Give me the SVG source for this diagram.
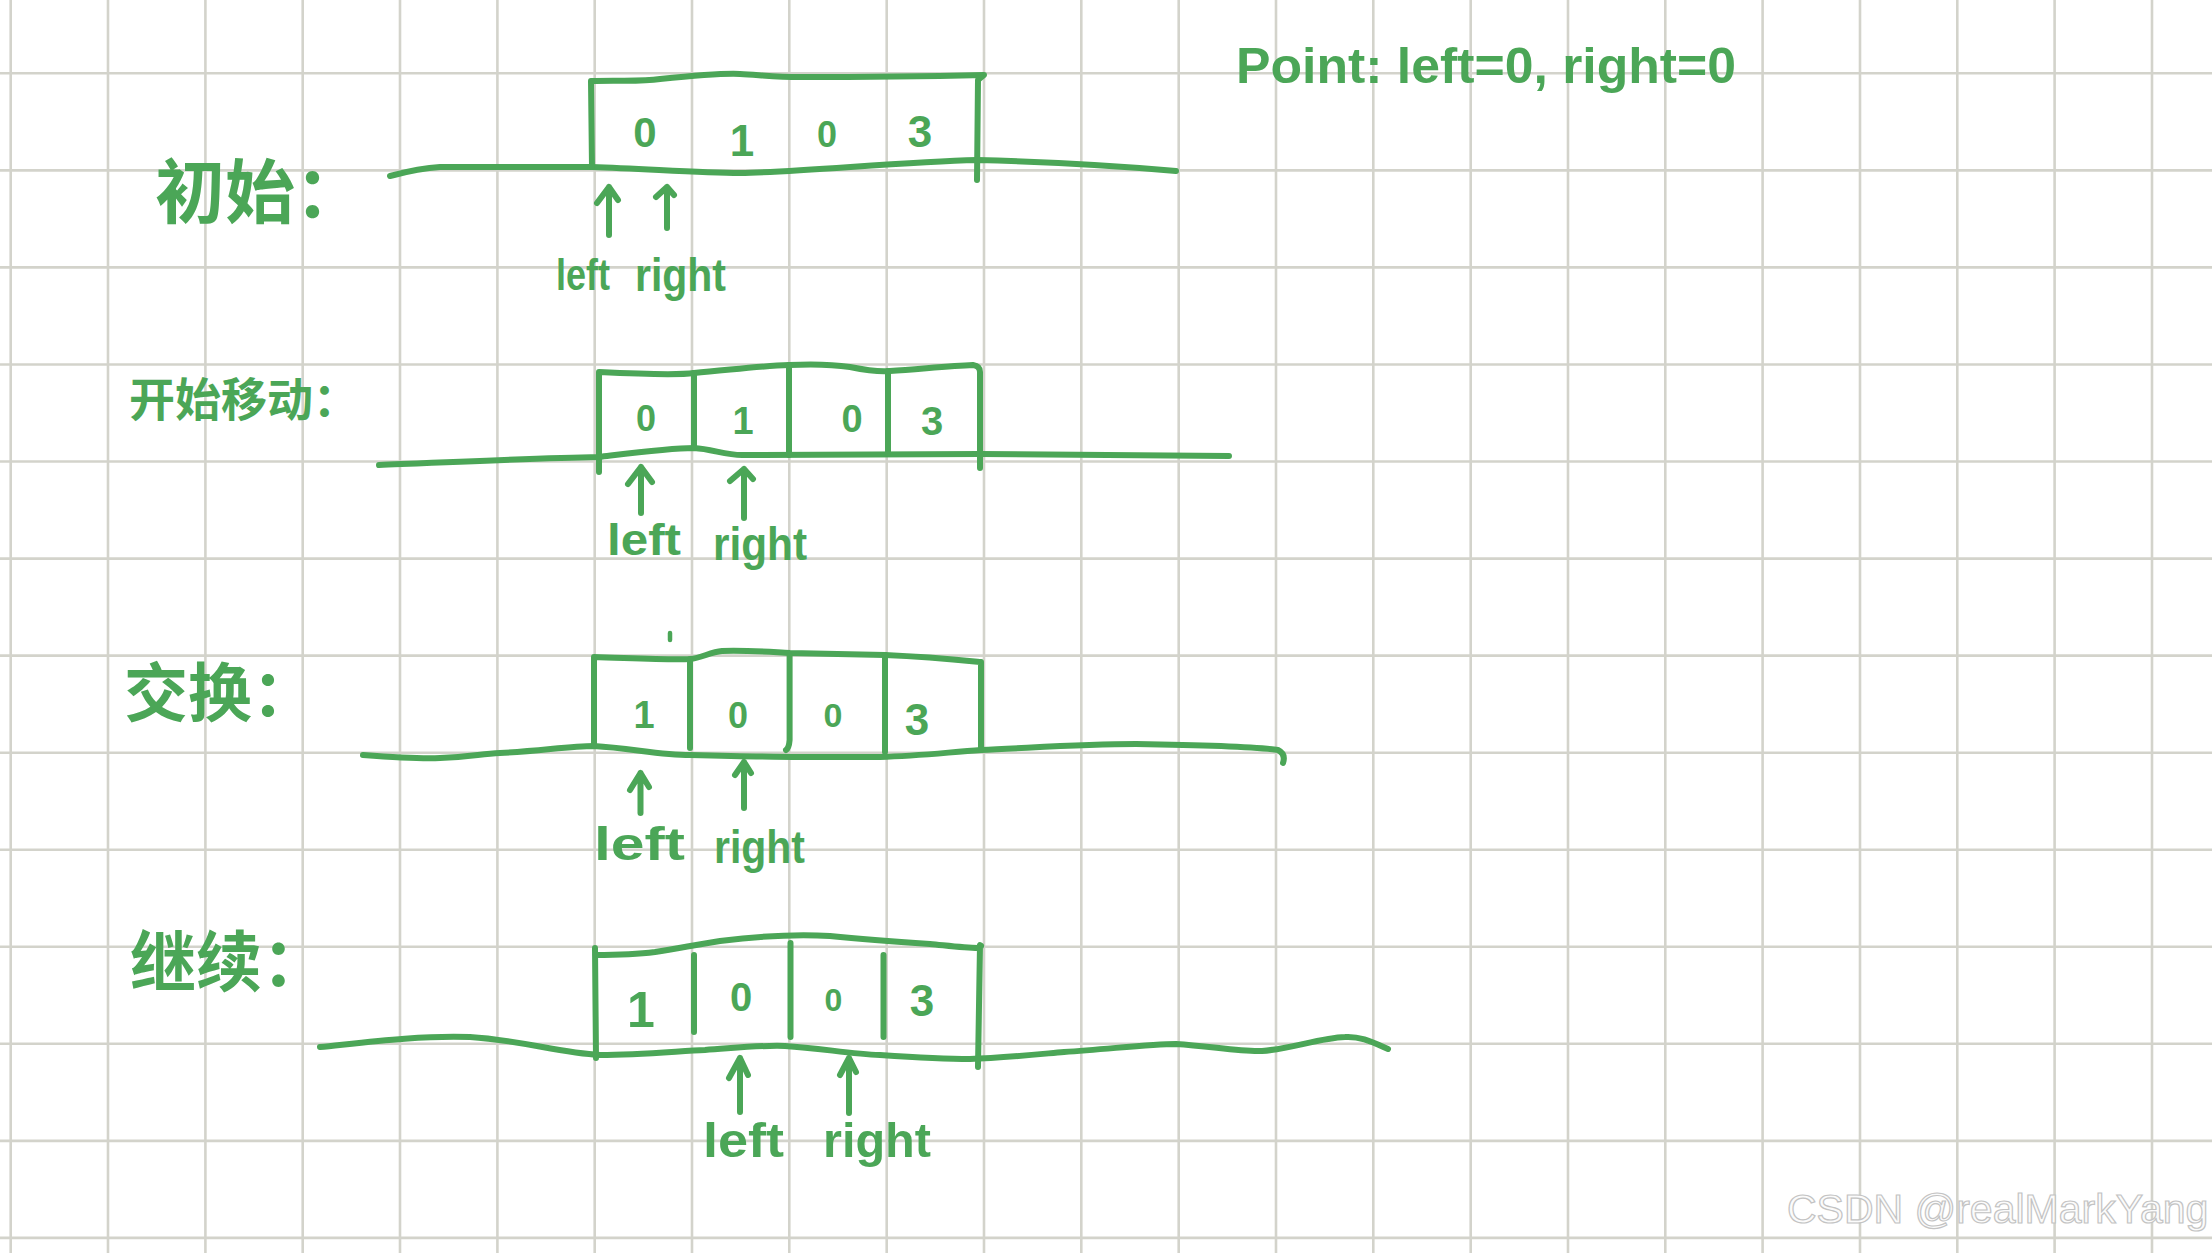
<svg xmlns="http://www.w3.org/2000/svg" width="2212" height="1253" viewBox="0 0 2212 1253">
<style>
.grid line{stroke:#d3d3cb;stroke-width:2.6}
.pen{fill:none;stroke:#4ba657;stroke-width:6;stroke-linecap:round;stroke-linejoin:round}
.thin{fill:none;stroke:#4ba657;stroke-width:4.5;stroke-linecap:round;stroke-linejoin:round}
.hw{fill:#4ba657;font-family:"Liberation Sans","DejaVu Sans",sans-serif;font-weight:bold}
.dg{fill:#4ba657;font-family:"Liberation Sans","DejaVu Sans",sans-serif;font-weight:bold;text-anchor:middle}
.cn{fill:#4ba657;font-family:"Noto Sans CJK SC","Noto Sans CJK JP",sans-serif;font-weight:bold}
.wm{fill:#fbfbfb;stroke:#c3c3c3;stroke-width:1.2;font-family:"Liberation Sans",Arial,sans-serif}
</style>
<rect width="2212" height="1253" fill="#ffffff"/>
<g class="grid">
<line x1="10.7" y1="0" x2="10.7" y2="1253"/><line x1="108" y1="0" x2="108" y2="1253"/><line x1="205.4" y1="0" x2="205.4" y2="1253"/><line x1="302.7" y1="0" x2="302.7" y2="1253"/><line x1="400" y1="0" x2="400" y2="1253"/><line x1="497.4" y1="0" x2="497.4" y2="1253"/><line x1="594.7" y1="0" x2="594.7" y2="1253"/><line x1="692" y1="0" x2="692" y2="1253"/><line x1="789.3" y1="0" x2="789.3" y2="1253"/><line x1="886.7" y1="0" x2="886.7" y2="1253"/><line x1="984" y1="0" x2="984" y2="1253"/><line x1="1081.3" y1="0" x2="1081.3" y2="1253"/><line x1="1178.7" y1="0" x2="1178.7" y2="1253"/><line x1="1276" y1="0" x2="1276" y2="1253"/><line x1="1373.3" y1="0" x2="1373.3" y2="1253"/><line x1="1470.7" y1="0" x2="1470.7" y2="1253"/><line x1="1568" y1="0" x2="1568" y2="1253"/><line x1="1665.3" y1="0" x2="1665.3" y2="1253"/><line x1="1762.6" y1="0" x2="1762.6" y2="1253"/><line x1="1860" y1="0" x2="1860" y2="1253"/><line x1="1957.3" y1="0" x2="1957.3" y2="1253"/><line x1="2054.6" y1="0" x2="2054.6" y2="1253"/><line x1="2152" y1="0" x2="2152" y2="1253"/>
<line x1="0" y1="73.3" x2="2212" y2="73.3"/><line x1="0" y1="170.4" x2="2212" y2="170.4"/><line x1="0" y1="267.4" x2="2212" y2="267.4"/><line x1="0" y1="364.5" x2="2212" y2="364.5"/><line x1="0" y1="461.5" x2="2212" y2="461.5"/><line x1="0" y1="558.6" x2="2212" y2="558.6"/><line x1="0" y1="655.6" x2="2212" y2="655.6"/><line x1="0" y1="752.7" x2="2212" y2="752.7"/><line x1="0" y1="849.7" x2="2212" y2="849.7"/><line x1="0" y1="946.8" x2="2212" y2="946.8"/><line x1="0" y1="1043.8" x2="2212" y2="1043.8"/><line x1="0" y1="1140.9" x2="2212" y2="1140.9"/><line x1="0" y1="1237.9" x2="2212" y2="1237.9"/>
</g>
<text class="wm" x="1787" y="1223" font-size="41">CSDN @realMarkYang</text>

<g id="point-note">
<text class="hw" x="1236" y="83" font-size="50" textLength="500" lengthAdjust="spacingAndGlyphs">Point: left=0, right=0</text>
</g>

<g id="stage-init">
<text class="cn" x="155" y="218" font-size="70">初始：</text>
<path class="pen" d="M390,176 C405,172 420,168 440,167 L592,167 C650,169 700,173 740,173 C800,172 900,162 977,160 C1050,162 1120,166 1176,171"/>
<path class="pen" d="M592,167 L591,81 C620,80 640,82 660,79 C690,76 720,73 740,74 C760,75 775,77 800,77 C880,77 940,76 984,75 L978,80 L977,180"/>
<text class="dg" x="645" y="147" font-size="42">0</text>
<text class="dg" x="742" y="156" font-size="44">1</text>
<text class="dg" x="827" y="147" font-size="36">0</text>
<text class="dg" x="920" y="147" font-size="44">3</text>
<text class="hw" x="556" y="290" font-size="44" textLength="54" lengthAdjust="spacingAndGlyphs">left</text>
<text class="hw" x="635" y="291" font-size="46" textLength="91" lengthAdjust="spacingAndGlyphs">right</text>
</g>

<g id="stage-move">
<text class="cn" x="129" y="416" font-size="46">开始移动：</text>
<path class="pen" d="M379,465 C450,462 540,458 599,457 C640,452 670,448 694,448 C712,449 725,455 742,455 L980,454 L1229,456"/>
<path class="pen" d="M599,472 L599,372 C640,374 680,375 694,373 C730,370 760,366 789,365 C810,364 830,364 850,367 C870,371 880,372 890,371 C920,369 950,366 973,365 Q980,366 980,372 L980,468"/>
<path class="pen" d="M694,373 L694,448 M789,365 L789,455 M888,371 L888,454"/>
<text class="dg" x="646" y="431" font-size="36">0</text>
<text class="dg" x="743" y="434" font-size="38">1</text>
<text class="dg" x="852" y="432" font-size="38">0</text>
<text class="dg" x="932" y="435" font-size="40">3</text>
<text class="hw" x="607" y="555" font-size="44" textLength="74" lengthAdjust="spacingAndGlyphs">left</text>
<text class="hw" x="713" y="560" font-size="46" textLength="94" lengthAdjust="spacingAndGlyphs">right</text>
</g>

<g id="stage-swap">
<text class="cn" x="124" y="716" font-size="64">交换：</text>
<path class="pen" d="M363,755 C390,757 420,759 440,758 C470,757 480,754 500,753 C540,751 570,746 594,746 C630,748 660,755 690,755 C730,756 770,757 800,757 L880,757 C920,756 950,752 981,750 C1030,748 1080,744 1136,744 C1200,745 1250,746 1278,750 Q1286,754 1283,763"/>
<path class="pen" d="M594,746 L594,657 C630,658 670,660 690,659 C702,658 710,652 722,651 C745,650 770,652 790,653 L885,655 C930,657 960,660 981,662 L981,750"/>
<path class="pen" d="M690,659 L690,748 M789.6,655 L789.6,740 Q789,748 786,750 M885,655 L885,752"/>
<path class="thin" d="M670,633 L670,640"/>
<text class="dg" x="644" y="728" font-size="38">1</text>
<text class="dg" x="738" y="728" font-size="36">0</text>
<text class="dg" x="833" y="727" font-size="34">0</text>
<text class="dg" x="917" y="735" font-size="44">3</text>
<text class="hw" x="594" y="860" font-size="46" textLength="91" lengthAdjust="spacingAndGlyphs">left</text>
<text class="hw" x="714" y="863" font-size="46" textLength="91" lengthAdjust="spacingAndGlyphs">right</text>
</g>

<g id="stage-continue">
<text class="cn" x="130" y="986" font-size="66">继续：</text>
<path class="pen" d="M320,1047 C360,1043 420,1035 470,1037 C520,1040 560,1053 600,1055 C640,1055 680,1051 705,1050 C735,1048 760,1045 785,1046 C820,1048 850,1054 880,1055 C910,1057 940,1059 970,1059 C1000,1058 1030,1055 1064,1052 C1110,1049 1150,1044 1176,1044 C1210,1046 1240,1052 1262,1051 C1290,1049 1320,1038 1345,1037 C1360,1036 1372,1042 1388,1049"/>
<path class="pen" d="M596,1058 L595,948 M595,955 C620,955 640,954 655,952 C680,948 700,944 720,941 C760,936 800,934 830,936 C870,940 900,942 930,944 C950,946 965,948 978,948 Q983,946 980,945 L978,1067"/>
<path class="pen" d="M694,955 L694,1032 M790.5,943 L790.5,1037 M883.5,955 L883.5,1037"/>
<text class="dg" x="641" y="1027" font-size="50">1</text>
<text class="dg" x="741" y="1011" font-size="40">0</text>
<text class="dg" x="833.5" y="1011" font-size="32">0</text>
<text class="dg" x="922" y="1016" font-size="44">3</text>
<text class="hw" x="703" y="1157" font-size="48" textLength="81" lengthAdjust="spacingAndGlyphs">left</text>
<text class="hw" x="823" y="1157" font-size="48" textLength="108" lengthAdjust="spacingAndGlyphs">right</text>
</g>

<g id="connectors">
<path class="pen" d="M609,235 L609,187 M597,203 L609,187 L618,200"/>
<path class="pen" d="M667,228 L667,187 M656,197 L667,187 L674,195"/>
<path class="pen" d="M641,513 L641,467 M628,484 L641,467 L652,482"/>
<path class="pen" d="M744,518 L744,469 M730,481 L744,469 L753,479"/>
<path class="pen" d="M640.5,813 L640.5,773 M630,790 L640.5,773 L649,787"/>
<path class="pen" d="M744,808 L744,762 M735,775 L744,762 L751,773"/>
<path class="pen" d="M740,1112 L740,1058 M729,1078 L740,1058 L748,1075"/>
<path class="pen" d="M849,1113 L849,1058 M840,1075 L849,1058 L856,1072"/>
</g>
</svg>
